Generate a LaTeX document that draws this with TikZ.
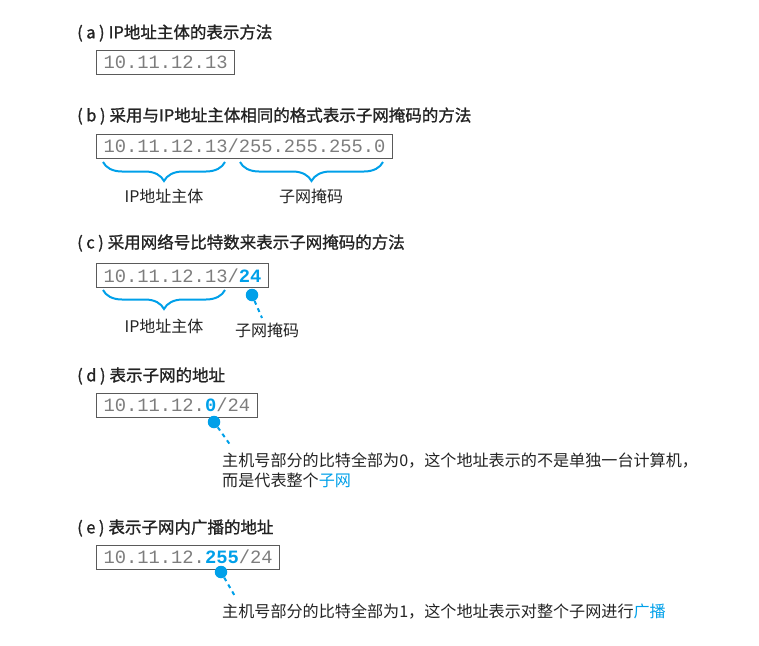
\documentclass[tikz,border=0pt]{standalone}
\usepackage{fontspec}
\setmainfont{Noto Sans CJK SC}
\newfontfamily\capfont[FakeBold=1.2]{Noto Sans CJK SC}
\newfontfamily\addrfont{Liberation Mono}
\usetikzlibrary{decorations.pathreplacing}
\definecolor{netblue}{RGB}{0,160,233}
\definecolor{boxgray}{RGB}{90,90,90}
\definecolor{addrgray}{RGB}{125,125,125}
\definecolor{txtgray}{RGB}{35,35,35}
\newcommand{\hostpart}[1]{\textcolor{netblue}{\textbf{#1}}}
\newcommand{\tag}[1]{(\hspace{3.5pt}#1\hspace{3.5pt})\hspace{4pt}}
\tikzset{
  caption/.style={anchor=west,inner sep=0pt,font=\capfont\fontsize{16.5}{20}\selectfont,text=txtgray},
  addrbox/.style={anchor=west,draw=boxgray,line width=1pt,inner xsep=7pt,inner ysep=0pt,
    minimum height=24pt,font=\addrfont\fontsize{18.8}{20}\selectfont,text=addrgray},
  partlabel/.style={inner sep=0pt,font=\fontsize{16}{20}\selectfont,text=txtgray},
  note/.style={anchor=north west,inner sep=0pt,align=left,font=\fontsize{16.1}{20}\selectfont,text=txtgray},
  markbrace/.style={decorate,decoration={brace,amplitude=19pt},draw=netblue,line width=2pt},
  hostdot/.style={circle,fill=netblue,inner sep=0pt,minimum size=12.5pt},
  leader/.style={draw=netblue,line width=2pt,dash pattern=on 4pt off 4pt}
}
\begin{document}
\begin{tikzpicture}[x=1pt,y=-1pt]
    \useasboundingbox (0,0) rectangle (759,645);

    \node[caption] (capA) at (77,33) {\tag{a}IP地址主体的表示方法};
    \node[addrbox] (boxA) at (96,62.5) {10.11.12.13};

    \node[caption] (capB) at (77,116) {\tag{b}采用与IP地址主体相同的格式表示子网掩码的方法};
    \node[addrbox] (boxB) at (96,146) {10.11.12.13/255.255.255.0};
    \draw[markbrace] (225,162) -- (103,162);
    \draw[markbrace] (383,162) -- (240,162);
    \node[partlabel] (hostB) at (164,196) {IP地址主体};
    \node[partlabel] (maskB) at (311,196) {子网掩码};

    \node[caption] (capC) at (77,243) {\tag{c}采用网络号比特数来表示子网掩码的方法};
    \node[addrbox] (boxC) at (96,275.5) {10.11.12.13/\hostpart{24}};
    \draw[markbrace] (225,290) -- (103,290);
    \node[partlabel] (hostC) at (164,326) {IP地址主体};
    \node[hostdot] (dotC) at (252,295) {};
    \coordinate (endC) at (262,318);
    \draw[leader] (dotC) -- (endC);
    \node[partlabel] (maskC) at (267,330) {子网掩码};

    \node[caption] (capD) at (77,376) {\tag{d}表示子网的地址};
    \node[addrbox] (boxD) at (96,405) {10.11.12.\hostpart{0}/24};
    \node[hostdot] (dotD) at (214,422) {};
    \coordinate (endD) at (231,446);
    \draw[leader] (dotD) -- (endD);
    \node[note] (noteD) at (222,453) {主机号部分的比特全部为0，这个地址表示的不是单独一台计算机，\\而是代表整个\textcolor{netblue}{子网}};

    \node[caption] (capE) at (77,528) {\tag{e}表示子网内广播的地址};
    \node[addrbox] (boxE) at (96,557) {10.11.12.\hostpart{255}/24};
    \node[hostdot] (dotE) at (221,572) {};
    \coordinate (endE) at (236,598);
    \draw[leader] (dotE) -- (endE);
    \node[note] (noteE) at (222,604) {主机号部分的比特全部为1，这个地址表示对整个子网进行\textcolor{netblue}{广播}};
\end{tikzpicture}
\end{document}
